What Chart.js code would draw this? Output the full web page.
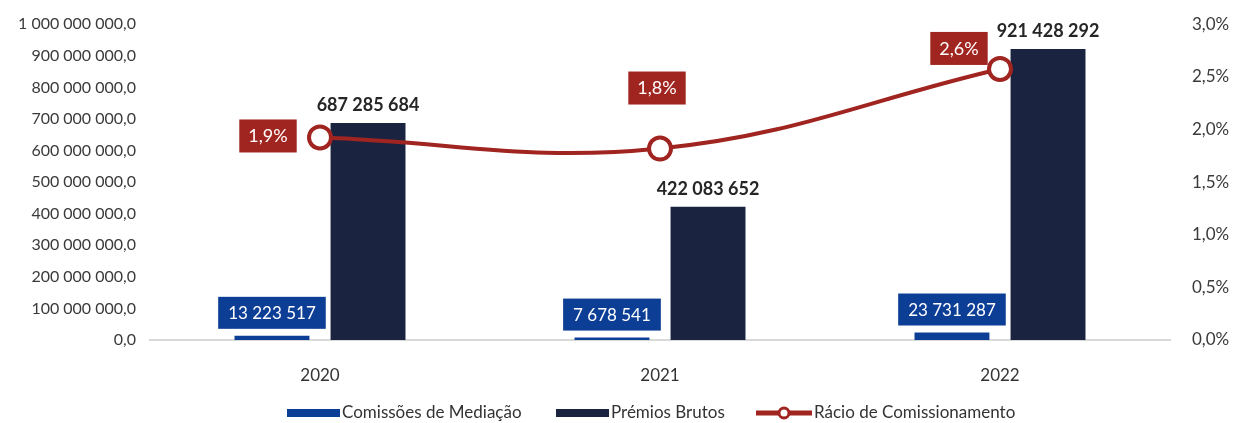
<!DOCTYPE html>
<html>
<head>
<meta charset="utf-8">
<script src="https://cdn.jsdelivr.net/npm/chart.js@4.4.0/dist/chart.umd.min.js"></script>
<style>
  html, body { margin: 0; padding: 0; background: #fff; }
  #wrap { width: 1250px; height: 423px; position: relative; }
</style>
</head>
<body>
<div id="wrap"><canvas id="chart"></canvas></div>
<script>
const years = ['2020', '2021', '2022'];
const comissoes = [13223517, 7678541, 23731287];
const premios = [687285684, 422083652, 921428292];
const racio = [1.924, 1.819, 2.575];
const racioLabels = ['1,9%', '1,8%', '2,6%'];

const FONT = 'Lato, "Open Sans", sans-serif';
const BLUE = '#0d3e96';
const NAVY = '#1a2440';
const RED = '#a0241f';

function fmtInt(v) {
    return Math.round(v).toString().replace(/\B(?=(\d{3})+(?!\d))/g, ' ');
}

function fmtLeft(v) {
    return fmtInt(v) + ',0';
}

// labels drawn by hand, like the data labels in the picture
const labelPlugin = {
    id: 'labelPlugin',
    afterDatasetsDraw(chart) {
        const ctx = chart.ctx;
        ctx.save();
        ctx.textAlign = 'center';
        ctx.textBaseline = 'middle';

        // comissoes: white text on blue box above bar
        chart.getDatasetMeta(0).data.forEach((bar, i) => {
            ctx.font = '17px ' + FONT;
            const txt = fmtInt(comissoes[i]);
            const w = ctx.measureText(txt).width + 20;
            const cy = bar.y - 23;
            ctx.fillStyle = BLUE;
            ctx.fillRect(bar.x - w / 2, cy - 16, w, 32);
            ctx.fillStyle = '#fff';
            ctx.fillText(txt, bar.x, cy + 1);
        });

        // premios: bold text above bar
        chart.getDatasetMeta(1).data.forEach((bar, i) => {
            ctx.font = 'bold 18px ' + FONT;
            ctx.fillStyle = '#262626';
            ctx.fillText(fmtInt(premios[i]), bar.x, bar.y - 18);
        });

        // racio: red boxes
        const offs = [[-52, -2], [-3, -61], [-41, -21]];
        chart.getDatasetMeta(2).data.forEach((pt, i) => {
            ctx.font = '18px ' + FONT;
            const txt = racioLabels[i];
            const w = ctx.measureText(txt).width + 18;
            const cx = pt.x + offs[i][0];
            const cy = pt.y + offs[i][1];
            ctx.fillStyle = RED;
            ctx.fillRect(cx - w / 2, cy - 16, w, 33);
            ctx.fillStyle = '#fff';
            ctx.fillText(txt, cx, cy + 1);
        });
        ctx.restore();
    },
    afterDraw(chart) {
        // legend at bottom
        const ctx = chart.ctx;
        const y = 413;
        ctx.save();
        ctx.font = '17px ' + FONT;
        ctx.textBaseline = 'middle';

        ctx.fillStyle = BLUE;
        ctx.fillRect(287, y - 4, 53, 8);
        ctx.fillStyle = '#333';
        ctx.fillText('Comissões de Mediação', 342, y);

        ctx.fillStyle = NAVY;
        ctx.fillRect(556, y - 4, 53, 8);
        ctx.fillStyle = '#333';
        ctx.fillText('Prémios Brutos', 611, y);

        ctx.strokeStyle = RED;
        ctx.lineWidth = 5;
        ctx.beginPath();
        ctx.moveTo(756, y);
        ctx.lineTo(812, y);
        ctx.stroke();
        ctx.beginPath();
        ctx.arc(784, y, 5, 0, Math.PI * 2);
        ctx.fillStyle = '#fff';
        ctx.fill();
        ctx.lineWidth = 3;
        ctx.stroke();
        ctx.fillStyle = '#333';
        ctx.fillText('Rácio de Comissionamento', 814, y);
        ctx.restore();
    }
};

const ctx = document.getElementById('chart').getContext('2d');
new Chart(ctx, {
    type: 'bar',
    data: {
        labels: years,
        datasets: [{
            label: 'Comissões de Mediação',
            data: comissoes,
            backgroundColor: BLUE,
            yAxisID: 'y',
            order: 2,
            categoryPercentage: 0.565,
            barPercentage: 0.78
        }, {
            label: 'Prémios Brutos',
            data: premios,
            backgroundColor: NAVY,
            yAxisID: 'y',
            order: 2,
            categoryPercentage: 0.565,
            barPercentage: 0.78
        }, {
            type: 'line',
            label: 'Rácio de Comissionamento',
            data: racio,
            yAxisID: 'y1',
            borderColor: RED,
            borderWidth: 4,
            tension: 0.4,
            pointRadius: 11,
            pointBorderWidth: 4,
            pointBackgroundColor: '#fff',
            pointBorderColor: RED,
            order: 1
        }]
    },
    options: {
        responsive: true,
        maintainAspectRatio: false,
        animation: false,
        layout: { padding: { top: 22, bottom: 38, left: 0, right: 0 } },
        plugins: {
            legend: { display: false },
            tooltip: { enabled: false }
        },
        scales: {
            x: {
                grid: { display: false },
                border: { display: true, color: '#d9d9d9', width: 2 },
                ticks: { font: { family: FONT, size: 17 }, color: '#333', padding: 17 },
                afterFit: (s) => { s.height = 45; }
            },
            y: {
                position: 'left',
                min: 0,
                max: 1000000000,
                grid: { display: false },
                border: { display: false },
                ticks: {
                    stepSize: 100000000,
                    font: { family: FONT, size: 16 },
                    color: '#3a3a3a',
                    padding: 6,
                    callback: (v) => fmtLeft(v)
                },
                afterFit: (s) => { s.width = 150; }
            },
            y1: {
                position: 'right',
                min: 0,
                max: 3,
                grid: { display: false },
                border: { display: false },
                ticks: {
                    stepSize: 0.5,
                    font: { family: FONT, size: 17 },
                    color: '#3a3a3a',
                    padding: 14,
                    callback: (v) => v.toFixed(1).replace('.', ',') + '%'
                },
                afterFit: (s) => { s.width = 80; }
            }
        }
    },
    plugins: [labelPlugin]
});
</script>
</body>
</html>
